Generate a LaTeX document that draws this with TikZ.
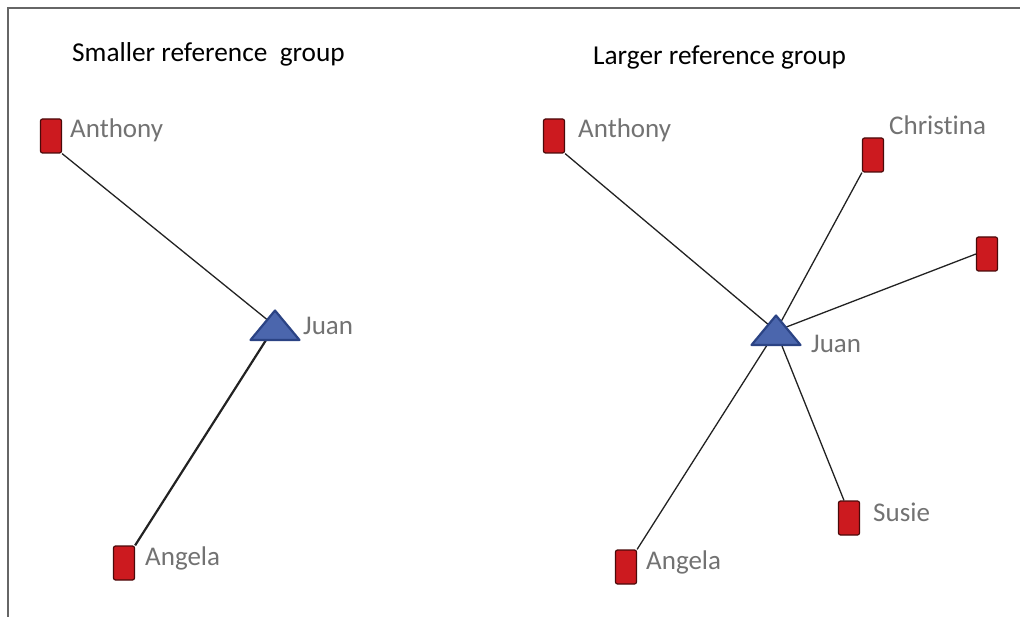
\documentclass[tikz,border=0pt]{standalone}
\usepackage{fontspec}
\setmainfont[Ligatures=NoCommon]{Carlito}
\usetikzlibrary{calc}
\definecolor{boxred}{HTML}{CC1A1F}
\definecolor{boxedge}{HTML}{4A0A0A}
\definecolor{trifill}{HTML}{4B66AD}
\definecolor{triedge}{HTML}{2B4384}
\definecolor{lbl}{HTML}{727272}
\definecolor{edgec}{HTML}{222222}
\definecolor{framec}{HTML}{666666}
\begin{document}
\begin{tikzpicture}[x=1pt,y=-1pt,
  actor/.style={draw=boxedge,fill=boxred,line width=1.2pt,rounded corners=2pt,minimum width=21pt,minimum height=34pt,inner sep=0pt},
  name label/.style={anchor=base west,text=lbl,font=\fontsize{27}{30}\selectfont,inner sep=0pt},
  title/.style={anchor=base west,text=black,font=\fontsize{27.3}{30}\selectfont,inner sep=0pt},
  tie/.style={draw=edgec,line width=1.3pt},
  tri/.style={draw=triedge,fill=trifill,line width=2.2pt,line join=round}]
\useasboundingbox (0,0) rectangle (1020,617);
\draw[framec,line width=1.5pt] (8,617) -- (8,8) -- (1020,8);
% titles
\node[title] (t1) at (72,62) {Smaller reference\ \ group};
\node[title] (t2) at (593,65) {Larger reference group};
% left group
\node[actor] (a1) at (51,136) {};
\node[actor] (g1) at (124,563) {};
\coordinate (j1) at (275,326);
\node[name label] (a1l) at (70,138) {Anthony};
\node[name label] (g1l) at (145,565) {Angela};
\node[name label] (j1l) at (303,335) {Juan};
\draw[tie] (a1.south east) -- (j1);
\draw[tie,line width=2.2pt] (g1.north east) -- (j1);
\draw[tri] ($(j1)+(0,-15.5)$) -- ($(j1)+(24.5,14)$) -- ($(j1)+(-24.5,14)$) -- cycle;
% right group
\node[actor] (a2) at (554,136) {};
\node[actor] (c2) at (873,155) {};
\node[actor] (u2) at (987,254) {};
\node[actor] (s2) at (849,518) {};
\node[actor] (g2) at (626,567) {};
\coordinate (j2) at (776,331);
\node[name label] (a2l) at (578,138) {Anthony};
\node[name label] (c2l) at (889,135) {Christ\kern0pt ina};
\node[name label] (s2l) at (873,521) {Susie};
\node[name label] (g2l) at (646,569) {Angela};
\node[name label] (j2l) at (811,353) {Juan};
\draw[tie] (a2.south east) -- (j2);
\draw[tie] (c2.south west) -- (j2);
\draw[tie] (u2.west) -- (j2);
\draw[tie] ([xshift=-5pt]s2.north) -- (j2);
\draw[tie] (g2.north east) -- (j2);
\draw[tri] ($(j2)+(0,-15.5)$) -- ($(j2)+(24.5,14)$) -- ($(j2)+(-24.5,14)$) -- cycle;
\end{tikzpicture}
\end{document}
